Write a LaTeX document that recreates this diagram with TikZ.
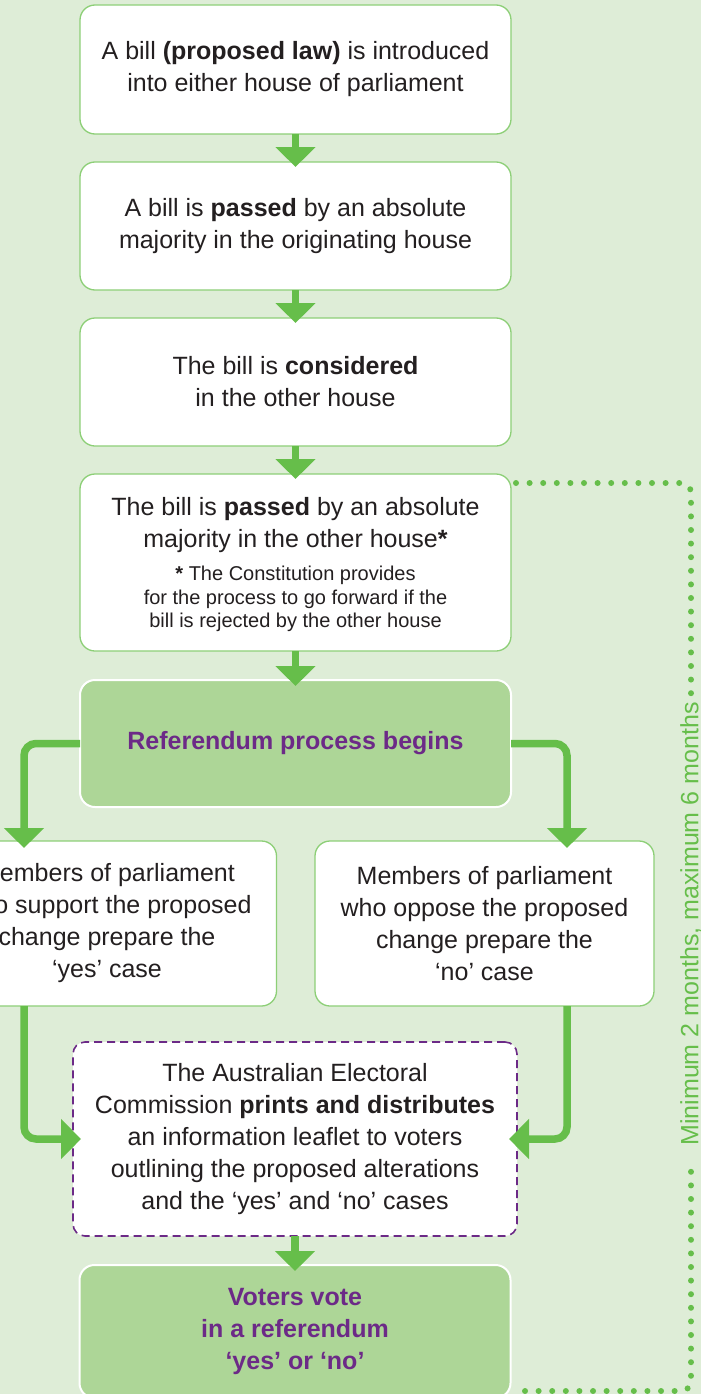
\documentclass[tikz,border=0pt]{standalone}
\usepackage{fontspec}
\setmainfont{Liberation Sans}
\usepackage{xcolor}
\usetikzlibrary{arrows.meta,positioning}

\definecolor{bgleaf}{HTML}{DEEDD7}
\definecolor{leafgreen}{HTML}{66BE4A}
\definecolor{paleline}{HTML}{8DCF77}
\definecolor{keyfill}{HTML}{ADD697}
\definecolor{plum}{HTML}{6C2A87}
\definecolor{inkgrey}{HTML}{231F20}

\begin{document}
\begin{tikzpicture}[
  x=1pt, y=-1pt,
  node distance=28pt,
  stepbox/.style={draw=paleline, line width=1.3pt, fill=white, rounded corners=15pt, align=center,
    text=inkgrey, font=\fontsize{25}{32}\selectfont, minimum width=431pt, minimum height=128pt,
    inner sep=4pt, outer sep=0pt},
  sidebox/.style={stepbox, minimum width=339pt, minimum height=165pt},
  leafbox/.style={stepbox, draw=plum, line width=1.6pt, dash pattern=on 8pt off 5pt,
    rounded corners=12pt, minimum width=444pt, minimum height=194pt},
  keybox/.style={stepbox, draw=white, line width=2pt, fill=keyfill, text=plum,
    font=\fontsize{25}{32}\selectfont\bfseries},
  arrow/.style={-{Triangle[length=20pt,width=39pt]}, line width=7.5pt, draw=leafgreen, rounded corners=12pt},
  dotline/.style={draw=leafgreen, line width=6pt, line cap=round, dash pattern=on 0pt off 13.6pt,
    rounded corners=10pt}
]
\useasboundingbox (0,0) rectangle (701,1394);
\fill[bgleaf] (0,0) rectangle (701,1394);
\clip (0,0) rectangle (701,1394);

% main column
\node (intro) [stepbox, minimum height=129pt] at (295.5,69.5) {A bill \textbf{(proposed law)} is introduced\\into either house of parliament};
\node (origin) [stepbox, below=of intro] {A bill is \textbf{passed} by an absolute\\majority in the originating house};
\node (consider) [stepbox, below=of origin] {The bill is \textbf{considered}\\in the other house};
\node (other) [stepbox, below=of consider, minimum height=177pt] {\rule{0pt}{23pt}The bill is \textbf{passed} by an absolute\\majority in the other house\textbf{*}\\[1pt]
  {\fontsize{20}{23.5}\selectfont \textbf{*} The Constitution provides}\\[-8.5pt]
  {\fontsize{20}{23.5}\selectfont for the process to go forward if the}\\[-8.5pt]
  {\fontsize{20}{23.5}\selectfont bill is rejected by the other house}};
\node (begins) [keybox, below=29pt of other, minimum height=127pt] {Referendum process begins};

% the two cases
\node (yescase) [sidebox, anchor=north] at (107,841) {Members of parliament\\who support the proposed\\change prepare the\\‘yes’ case};
\node (nocase) [sidebox, anchor=north] at (484.5,841) {Members of parliament\\who oppose the proposed\\change prepare the\\‘no’ case};

\node (leaflet) [leafbox, anchor=north] at (295,1042) {The Australian Electoral\\Commission \textbf{prints and distributes}\\an information leaflet to voters\\outlining the proposed alterations\\and the ‘yes’ and ‘no’ cases};
\node (vote) [keybox, below=29pt of leaflet, minimum height=133pt] {Voters vote\\in a referendum\\‘yes’ or ‘no’};

% time span along the right
\node (span) [rotate=90, text=leafgreen, font=\fontsize{25}{32}\selectfont, inner sep=6pt] at (691,924) {Minimum 2 months, maximum 6 months};
\coordinate (spanend) at (515,1391);

\draw[arrow, shorten >=-5pt] (intro) -- (origin);
\draw[arrow, shorten >=-5pt] (origin) -- (consider);
\draw[arrow, shorten >=-5pt] (consider) -- (other);
\draw[arrow, shorten >=-6pt] (other) -- (begins);
\draw[arrow, shorten >=-7pt] (begins.west) -| ([xshift=-83pt]yescase.north);
\draw[arrow, shorten >=-7pt] (begins.east) -| ([xshift=82.5pt]nocase.north);
\draw[arrow, shorten >=-8pt] ([xshift=-83pt]yescase.south) |- (leaflet.west);
\draw[arrow, shorten >=-8pt] ([xshift=82.5pt]nocase.south) |- (leaflet.east);
\draw[arrow, shorten >=-6pt] (leaflet) -- (vote);

\draw[dotline] ([shift={(5,9)}]other.north east) -| (span.east);
\draw[dotline] ([shift={(0,20)}]span.west) |- (spanend);
\end{tikzpicture}
\end{document}
